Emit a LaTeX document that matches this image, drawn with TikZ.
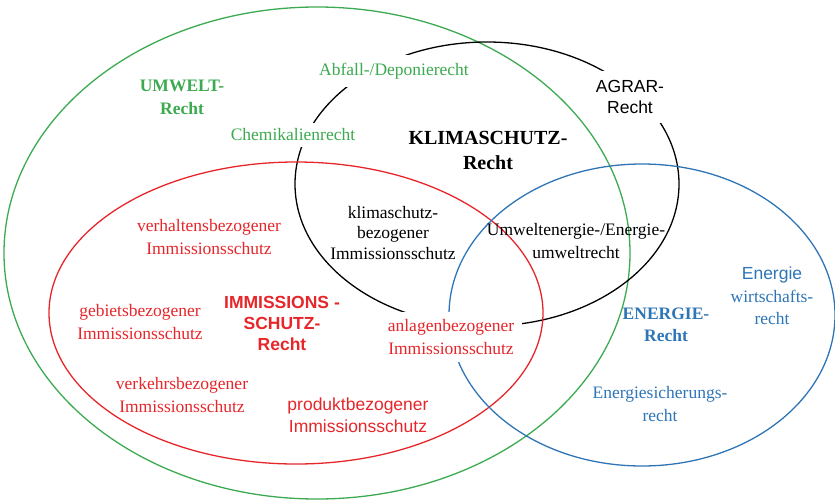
\documentclass[tikz,border=0pt]{standalone}
\usepackage{fontspec}
\setmainfont{Liberation Serif}
\setsansfont{Liberation Sans}
\usetikzlibrary{positioning}
\definecolor{umweltgreen}{RGB}{60,170,80}
\definecolor{immired}{RGB}{230,38,42}
\definecolor{energieblue}{RGB}{46,117,182}

\begin{document}
\begin{tikzpicture}[x=1pt,y=-1pt,
    field/.style={line width=1.3pt},
    txt/.style={align=center, inner sep=1pt, font=\fontsize{17.5}{22.5}\selectfont},
    sanstxt/.style={txt, font=\fontsize{17.5}{21.5}\selectfont\sffamily},
    head/.style={align=center, inner sep=1pt, font=\fontsize{17.5}{23}\selectfont\bfseries},
    cover/.style={fill=white, inner sep=6pt}]
    \useasboundingbox (0,0) rectangle (835,501);

    % Rechtsgebiete
    \draw[field, umweltgreen] (317,253) ellipse (313 and 246);
    \draw[field, black] (487,184) ellipse (192 and 142);
    \draw[field, immired] (296,313) ellipse (247 and 151);
    \draw[field, energieblue] (642,315) ellipse (193 and 151);

    % Umwelt-Recht
    \node[head, text=umweltgreen] (umwelt) at (182,97) {UMWELT-\\Recht};
    \node[txt, cover, inner sep=8pt, text=umweltgreen] (abfall) at (394,71) {Abfall-/Deponierecht};
    \node[txt, cover, text=umweltgreen] (chemie) at (293,135) {Chemikalienrecht};

    % Klimaschutz-Recht
    \node[head, font=\fontsize{20}{25}\selectfont\bfseries] (klima) at (488,150) {KLIMASCHUTZ-\\Recht};
    \node[sanstxt, cover, inner sep=9pt] (agrar) at (630,97) {AGRAR-\\Recht};
    \node[txt, font=\fontsize{17.5}{20.5}\selectfont] (klimaimm) at (393,233) {klimaschutz-\\bezogener\\Immissionsschutz};
    \node[txt] (umweltenergie) at (576,241) {Umweltenergie-/Energie-\\umweltrecht};

    % Immissionsschutz-Recht
    \node[txt, text=immired] (verhalten) at (209,237) {verhaltensbezogener\\Immissionsschutz};
    \node[txt, text=immired] (gebiet) at (140,322) {gebietsbezogener\\Immissionsschutz};
    \node[sanstxt, text=immired, font=\fontsize{17.5}{21}\selectfont\sffamily\bfseries] (immission) at (282,323) {IMMISSIONS -\\SCHUTZ-\\Recht};
    \node[txt, cover, inner sep=8pt, text=immired] (anlagen) at (451,337) {anlagenbezogener\\Immissionsschutz};
    \node[txt, text=immired] (verkehr) at (182,395) {verkehrsbezogener\\Immissionsschutz};
    \node[sanstxt, text=immired] (produkt) at (358,415) {produktbezogener\\Immissionsschutz};

    % Energie-Recht
    \node[head, text=energieblue, font=\fontsize{17.5}{22}\selectfont\bfseries] (energie) at (666,325) {ENERGIE-\\Recht};
    \node[txt, text=energieblue] (energiewirt) at (772,296) {{\sffamily Energie}\\wirtschafts-\\recht};
    \node[txt, text=energieblue] (sicherung) at (660,404) {Energiesicherungs-\\recht};
\end{tikzpicture}
\end{document}
